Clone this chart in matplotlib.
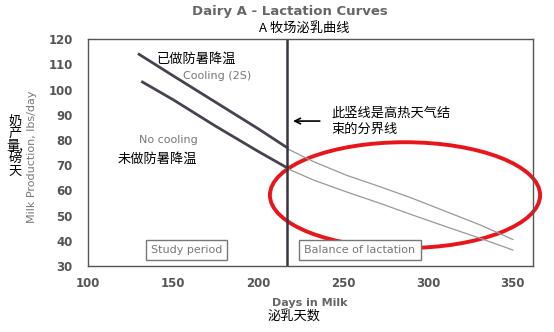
import matplotlib
matplotlib.use("Agg")
import matplotlib.pyplot as plt
from matplotlib.patches import Ellipse

plt.rcParams['font.family'] = ['DejaVu Sans', 'Noto Sans CJK SC']

# Study period (thick dark curves)
study_days_cool = [130, 150, 175, 200, 217]
study_cool = [114, 105.5, 95, 84.5, 77]
study_days_nocool = [132, 150, 175, 200, 217]
study_nocool = [103, 96, 85.5, 75.5, 69]

# Balance of lactation (thin grey curves)
bal_days = [217, 233, 252, 272, 291, 311, 331, 350]
bal_cool = [76.6, 71.3, 66, 61.4, 56.8, 51.5, 46.2, 40.5]
bal_nocool = [68.7, 64, 59.4, 54.8, 50.2, 45.5, 40.9, 36.3]

x_ticks = [100, 150, 200, 250, 300, 350]
y_ticks = [30, 40, 50, 60, 70, 80, 90, 100, 110, 120]
split_day = 217

grey = "#777777"
dark = "#4a4150"
cjk = ['Noto Sans CJK SC', 'DejaVu Sans']

fig = plt.figure(figsize=(5.54, 3.32), dpi=100)
ax = fig.add_axes([0.159, 0.199, 0.803, 0.683])

ax.plot(study_days_cool, study_cool, color=dark, lw=2)
ax.plot(study_days_nocool, study_nocool, color=dark, lw=2)
ax.plot(bal_days, bal_cool, color="#999999", lw=0.9)
ax.plot(bal_days, bal_nocool, color="#999999", lw=0.9)
ax.axvline(split_day, color="#3a3440", lw=1.8)

ax.set_xlim(100, 361.8)
ax.set_ylim(30, 120)
ax.set_xticks(x_ticks)
ax.set_yticks(y_ticks)
ax.tick_params(length=0, labelsize=8.5, labelcolor="#555555")
ax.tick_params(axis="y", pad=11)
ax.tick_params(axis="x", pad=8)
for lab in ax.get_xticklabels() + ax.get_yticklabels():
    lab.set_fontweight("bold")
for s in ax.spines.values():
    s.set_color("#555555")
    s.set_linewidth(1)

# period boxes
box = dict(boxstyle="square,pad=0.45", fc="white", ec=grey, lw=1)
ax.text(158, 36.5, "Study period", ha="center", va="center", fontsize=8,
        color=grey, bbox=box)
ax.text(260, 36.5, "Balance of lactation", ha="center", va="center", fontsize=8,
        color=grey, bbox=box)

# curve labels
ax.text(164, 112, "已做防暑降温", fontsize=9.5, family=cjk, ha="center", va="center")
ax.text(176, 105.5, "Cooling (2S)", fontsize=8, color=grey, ha="center", va="center")
ax.text(147, 80, "No cooling", fontsize=8, color=grey, ha="center", va="center")
ax.text(141, 72.5, "未做防暑降温", fontsize=9.5, family=cjk, ha="center", va="center")

# arrow + note
ax.annotate("", xy=(219, 87.5), xytext=(238, 87.5),
            arrowprops=dict(arrowstyle="->", color="black", lw=1.2))
ax.text(243, 87.5, "此竖线是高热天气结\n束的分界线", fontsize=9.5, family=cjk,
        va="center", ha="left", linespacing=1.35)

# red ellipse
ax.add_patch(Ellipse((286.5, 58.1), 159, 42, fill=False, ec="#e8161b",
                     lw=2.8, clip_on=False))

# titles and axis labels
fig.text(0.523, 0.965, "Dairy A - Lactation Curves", ha="center", va="center",
         fontsize=9.5, fontweight="bold", color="#666666")
fig.text(0.55, 0.915, "A 牧场泌乳曲线", ha="center", va="center", fontsize=9.5,
         family=cjk)
fig.text(0.058, 0.527, "Milk Production, lbs/day", rotation=90, ha="center",
         va="center", fontsize=8, color=grey)
fig.text(0.027, 0.56, "奶\n产\n量,\n磅\n天", ha="center", va="center",
         fontsize=9.5, family=cjk, linespacing=0.95)
fig.text(0.56, 0.087, "Days in Milk", ha="center", va="center", fontsize=8,
         fontweight="bold", color="#666666")
fig.text(0.53, 0.045, "泌乳天数", ha="center", va="center", fontsize=9.5,
         family=cjk)

fig.savefig("out.png", dpi=100, facecolor="white")
